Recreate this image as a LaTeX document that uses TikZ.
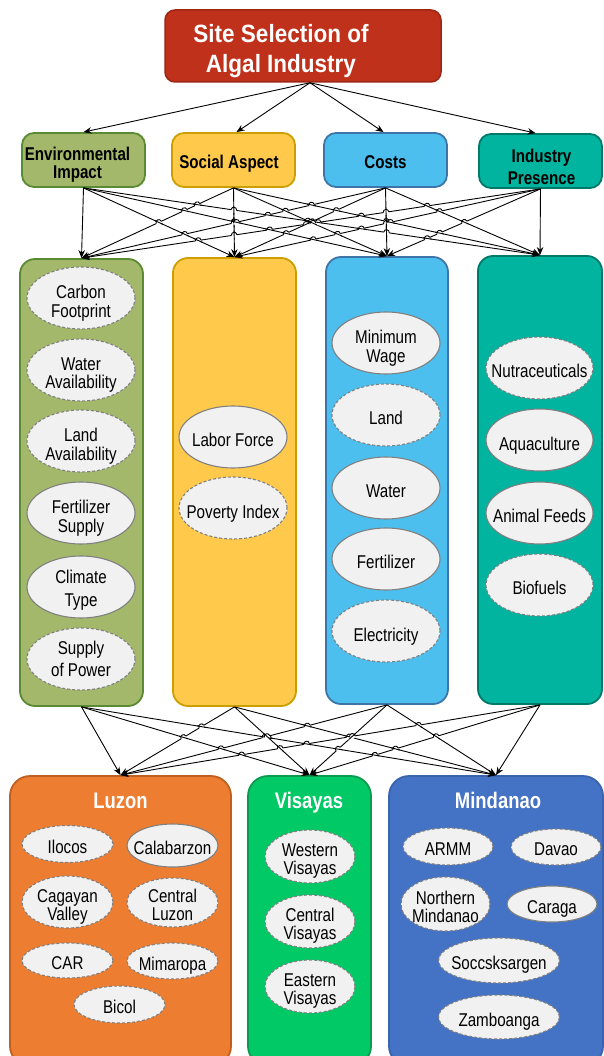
\documentclass[tikz,border=0pt]{standalone}
\usepackage{fontspec}
\setmainfont{Liberation Sans}[FakeStretch=0.82]
\newfontfamily\titlefont{Liberation Sans}[FakeStretch=0.9]
\usetikzlibrary{shapes.geometric,arrows.meta,calc,intersections}

\definecolor{titlefill}{HTML}{C0311B}
\definecolor{titledraw}{HTML}{9C2715}
\definecolor{envfill}{HTML}{A3B86A}
\definecolor{envdraw}{HTML}{5A8A32}
\definecolor{socfill}{HTML}{FFCA4B}
\definecolor{socdraw}{HTML}{CC9E00}
\definecolor{cosfill}{HTML}{4CBFEF}
\definecolor{cosdraw}{HTML}{3E75A8}
\definecolor{indfill}{HTML}{00B4A0}
\definecolor{inddraw}{HTML}{00796A}
\definecolor{luzfill}{HTML}{ED7D31}
\definecolor{luzdraw}{HTML}{C06020}
\definecolor{visfill}{HTML}{00C965}
\definecolor{visdraw}{HTML}{0B9A50}
\definecolor{minfill}{HTML}{4472C4}
\definecolor{mindraw}{HTML}{3A63AE}
\definecolor{elfill}{HTML}{F1F1F1}
\definecolor{eldraw}{HTML}{808080}

\tikzset{
  titlebox/.style={draw=titledraw, fill=titlefill, line width=1.5pt, rounded corners=10pt,
    minimum width=276pt, minimum height=72pt, inner sep=0pt},
  titletext/.style={font=\titlefont\bfseries\fontsize{25}{30}\selectfont, text=white, align=center, inner sep=0pt},
  crit/.style={draw=#1draw, fill=#1fill, line width=1.8pt, rounded corners=12pt,
    minimum width=123pt, minimum height=54pt, inner sep=0pt},
  crittext/.style={font=\bfseries\fontsize{18.5}{17.5}\selectfont, align=center, inner sep=0pt},
  colbox/.style={draw=#1draw, fill=#1fill, line width=1.8pt, rounded corners=15pt,
    minimum width=123pt, minimum height=447pt, inner sep=0pt},
  regbox/.style={draw=#1draw, fill=#1fill, line width=1.8pt, rounded corners=20pt,
    minimum height=290pt, inner sep=0pt},
  regtitle/.style={font=\bfseries\fontsize{22.5}{24}\selectfont, text=white, inner sep=0pt, anchor=base},
  el/.style={ellipse, draw=eldraw, fill=elfill, line width=1.1pt, inner sep=0pt},
  eld/.style={el, dash pattern=on 3pt off 2pt},
  eltext/.style={font=\fontsize{18.5}{18.5}\selectfont, align=center, inner sep=0pt, yshift=-3.25pt},
  regtext/.style={font=\fontsize{18.5}{18}\selectfont, align=center, inner sep=0pt, yshift=-2.5pt},
  dsc/.style={yshift=-2pt},
  colel/.style={minimum width=108pt, minimum height=62pt},
  ln/.style={line width=0.9pt, draw=black},
  arr/.style={ln, -{Stealth[length=8pt,width=6.5pt]}},
}

% a small jump of connector #1 over connector #2 at their crossing
\newcommand\mkjump[2]{%
  \edef\jsi{\csname ls#1\endcsname}%
  \edef\jti{\csname lt#1\endcsname}%
  \edef\jfi{\csname lf#1\endcsname}%
  \edef\jsj{\csname ls#2\endcsname}%
  \edef\jtj{\csname lt#2\endcsname}%
  \coordinate (X) at (intersection-1);
  \fill[white] (X) circle (2.9pt);
  \draw[ln] ($(X)!4.5pt!(\jsj.south)$) -- ($(X)!4.5pt!(\jtj.north)$);
  \ifnum\jfi=1
    \coordinate (A) at ($(X)!2.8pt!(\jsi.south)$);
    \coordinate (B) at ($(X)!2.8pt!(\jti.north)$);
  \else
    \coordinate (A) at ($(X)!2.8pt!(\jti.north)$);
    \coordinate (B) at ($(X)!2.8pt!(\jsi.south)$);
  \fi
  \draw[ln] (A) .. controls ($(A)!3.7pt!90:(B)$) and ($(B)!3.7pt!-90:(A)$) .. (B);
}

\begin{document}
\begin{tikzpicture}[x=1pt,y=-1pt]
\useasboundingbox (0,0) rectangle (604,1056);
\begin{scope}
\clip (0,0) rectangle (604,1056);

% title
\node[titlebox, label={[titletext,xshift=-22pt,yshift=-5pt]center:{Site Selection of\\Algal Industry}}] (title) at (303,46) {};

% criteria
\node[crit=env, label={[crittext,xshift=-6pt,yshift=-4.5pt]center:{Environmental\\Impact}}] (env) at (83.5,160) {};
\node[crit=soc, label={[crittext,xshift=-4.5pt,yshift=-4pt]center:{Social Aspect}}] (soc) at (233.5,160) {};
\node[crit=cos, label={[crittext,yshift=-2pt]center:{Costs}}] (cos) at (385.5,160) {};
\node[crit=ind, label={[crittext,font=\bfseries\fontsize{18.5}{22}\selectfont,xshift=1pt,yshift=-6pt]center:{Industry\\Presence}}] (ind) at (540.5,161) {};

% columns
\node[colbox=env] (envc) at (81.5,482.5) {};
\node[colbox=soc, minimum height=448pt] (socc) at (234.5,482) {};
\node[colbox=cos, minimum width=122pt] (cosc) at (387,480.5) {};
\node[colbox=ind, minimum width=124pt, minimum height=448pt] (indc) at (540,480) {};

% environmental impact items
\node[eld, colel, label={[eltext,dsc]center:{Carbon\\Footprint}}] (cf) at (81,298) {};
\node[eld, colel, label={[eltext,dsc]center:{Water\\Availability}}] (wa) at (81,370) {};
\node[eld, colel, label={[eltext,dsc]center:{Land\\Availability}}] (la) at (81,441) {};
\node[el, colel, label={[eltext,dsc]center:{Fertilizer\\Supply}}] (fs) at (81,513) {};
\node[el, colel, label={[eltext,font=\fontsize{18.5}{23}\selectfont,yshift=0.5pt]center:{Climate\\Type}}] (ct) at (81,587) {};
\node[eld, colel, label={[eltext,font=\fontsize{18.5}{22}\selectfont,yshift=3pt]center:{Supply\\of Power}}] (sp) at (81,659) {};

% social aspect items
\node[el, colel, label={[eltext]center:{Labor Force}}] (lf) at (233,437) {};
\node[eld, colel, label={[eltext,dsc]center:{Poverty Index}}] (pi) at (233,508) {};

% costs items
\node[el, colel, label={[eltext,dsc]center:{Minimum\\Wage}}] (mw) at (386,343) {};
\node[eld, colel, label={[eltext]center:{Land}}] (ld) at (386,415) {};
\node[el, colel, label={[eltext]center:{Water}}] (wt) at (386,488) {};
\node[el, colel, label={[eltext]center:{Fertilizer}}] (fz) at (386,559) {};
\node[eld, colel, label={[eltext,dsc]center:{Electricity}}] (ec) at (386,631) {};

% industry presence items
\node[eld, colel, minimum width=107pt, label={[eltext]center:{Nutraceuticals}}] (nu) at (539.5,368) {};
\node[el, colel, minimum width=107pt, label={[eltext,dsc]center:{Aquaculture}}] (aq) at (539.5,440) {};
\node[el, colel, minimum width=107pt, label={[eltext]center:{Animal Feeds}}] (af) at (539.5,513) {};
\node[eld, colel, minimum width=107pt, label={[eltext]center:{Biofuels}}] (bf) at (539.5,585) {};

% regions
\node[regbox=luz, minimum width=221pt] (luz) at (120.5,921) {};
\node[regbox=vis, minimum width=123pt] (vis) at (309.5,921) {};
\node[regbox=min, minimum width=214pt] (mnd) at (496,921) {};
\node[regtitle] (luzt) at (120.5,808) {Luzon};
\node[regtitle] (vist) at (309,808) {Visayas};
\node[regtitle] (mndt) at (498,808) {Mindanao};

% Luzon items
\node[eld, minimum width=91pt, minimum height=37pt, label={[regtext]center:{Ilocos}}] (il) at (67.5,844) {};
\node[el, minimum width=91pt, minimum height=43pt, label={[regtext]center:{Calabarzon}}] (cb) at (172.5,845.5) {};
\node[eld, minimum width=91pt, minimum height=52pt, label={[regtext,dsc]center:{Cagayan\\Valley}}] (cv) at (67.5,902) {};
\node[eld, minimum width=91pt, minimum height=49pt, label={[regtext]center:{Central\\Luzon}}] (cl) at (172.5,902.5) {};
\node[eld, minimum width=91pt, minimum height=35pt, label={[regtext]center:{CAR}}] (car) at (67.5,960.5) {};
\node[eld, minimum width=91pt, minimum height=36pt, label={[regtext,dsc]center:{Mimaropa}}] (mm) at (172.5,961) {};
\node[eld, minimum width=91pt, minimum height=37pt, label={[regtext]center:{Bicol}}] (bc) at (119.5,1004.5) {};

% Visayas items
\node[eld, minimum width=90pt, minimum height=53pt, label={[regtext,dsc]center:{Western\\Visayas}}] (wv) at (310,856.5) {};
\node[eld, minimum width=90pt, minimum height=53pt, label={[regtext,dsc]center:{Central\\Visayas}}] (cvs) at (310,921.5) {};
\node[eld, minimum width=90pt, minimum height=53pt, label={[regtext,dsc]center:{Eastern\\Visayas}}] (ev) at (310,986.5) {};

% Mindanao items
\node[eld, minimum width=90pt, minimum height=37pt, label={[regtext]center:{ARMM}}] (ar) at (448,846.5) {};
\node[eld, minimum width=90pt, minimum height=36pt, label={[regtext]center:{Davao}}] (dv) at (556,847) {};
\node[eld, minimum width=89pt, minimum height=54pt, label={[regtext]center:{Northern\\Mindanao}}] (nm) at (445.5,904) {};
\node[el, minimum width=90pt, minimum height=36pt, label={[regtext,dsc]center:{Caraga}}] (cg) at (552,904) {};
\node[eld, minimum width=121pt, minimum height=45pt, label={[regtext,dsc]center:{Soccsksargen}}] (sk) at (499,960.5) {};
\node[eld, minimum width=121pt, minimum height=44pt, label={[regtext,dsc]center:{Zamboanga}}] (zb) at (499,1017) {};

% connectors: goal -> criteria
\draw[arr] ([xshift=7pt]title.south) -- (env.north);
\draw[arr] ([xshift=7pt]title.south) -- ([xshift=3pt]soc.north);
\draw[arr] ([xshift=7pt]title.south) -- ([xshift=-2pt]cos.north);
\draw[arr] ([xshift=7pt]title.south) -- ([xshift=-5pt]ind.north);

% criteria -> columns, columns -> regions (index/source/target/source-left-of-target)
\foreach \k/\s/\t/\f in {1/env/envc/1, 2/soc/socc/1, 3/cos/cosc/1, 4/ind/indc/1,
    5/env/socc/1, 6/env/cosc/1, 7/env/indc/1, 8/soc/envc/0, 9/soc/cosc/1, 10/soc/indc/1,
    11/cos/envc/0, 12/cos/socc/0, 13/cos/indc/1, 14/ind/envc/0, 15/ind/socc/0, 16/ind/cosc/0,
    21/envc/luz/1, 22/envc/vis/1, 23/envc/mnd/1, 24/socc/luz/0, 25/socc/vis/1, 26/socc/mnd/1,
    27/cosc/luz/0, 28/cosc/vis/0, 29/cosc/mnd/1, 30/indc/luz/0, 31/indc/vis/0, 32/indc/mnd/0} {
  \expandafter\xdef\csname ls\k\endcsname{\s}
  \expandafter\xdef\csname lt\k\endcsname{\t}
  \expandafter\xdef\csname lf\k\endcsname{\f}
  \path[name path global=P\k] ($(\s.south)!6pt!(\t.north)$) -- ($(\t.north)!6pt!(\s.south)$);
  \draw[arr] (\s.south) -- (\t.north);
}

% line jumps at crossings
\foreach \i in {2,...,16} {
  \pgfmathtruncatemacro\jm{\i-1}
  \foreach \j in {1,...,\jm} {
    \path[name intersections={of/.expanded=P\i\space and P\j, total=\tot}] \pgfextra{\xdef\ntot{\tot}};
    \ifnum\ntot>0 \mkjump{\i}{\j}\fi
  }
}
\foreach \i in {22,...,32} {
  \pgfmathtruncatemacro\jm{\i-1}
  \foreach \j in {21,...,\jm} {
    \path[name intersections={of/.expanded=P\i\space and P\j, total=\tot}] \pgfextra{\xdef\ntot{\tot}};
    \ifnum\ntot>0 \mkjump{\i}{\j}\fi
  }
}

\end{scope}
\end{tikzpicture}
\end{document}
